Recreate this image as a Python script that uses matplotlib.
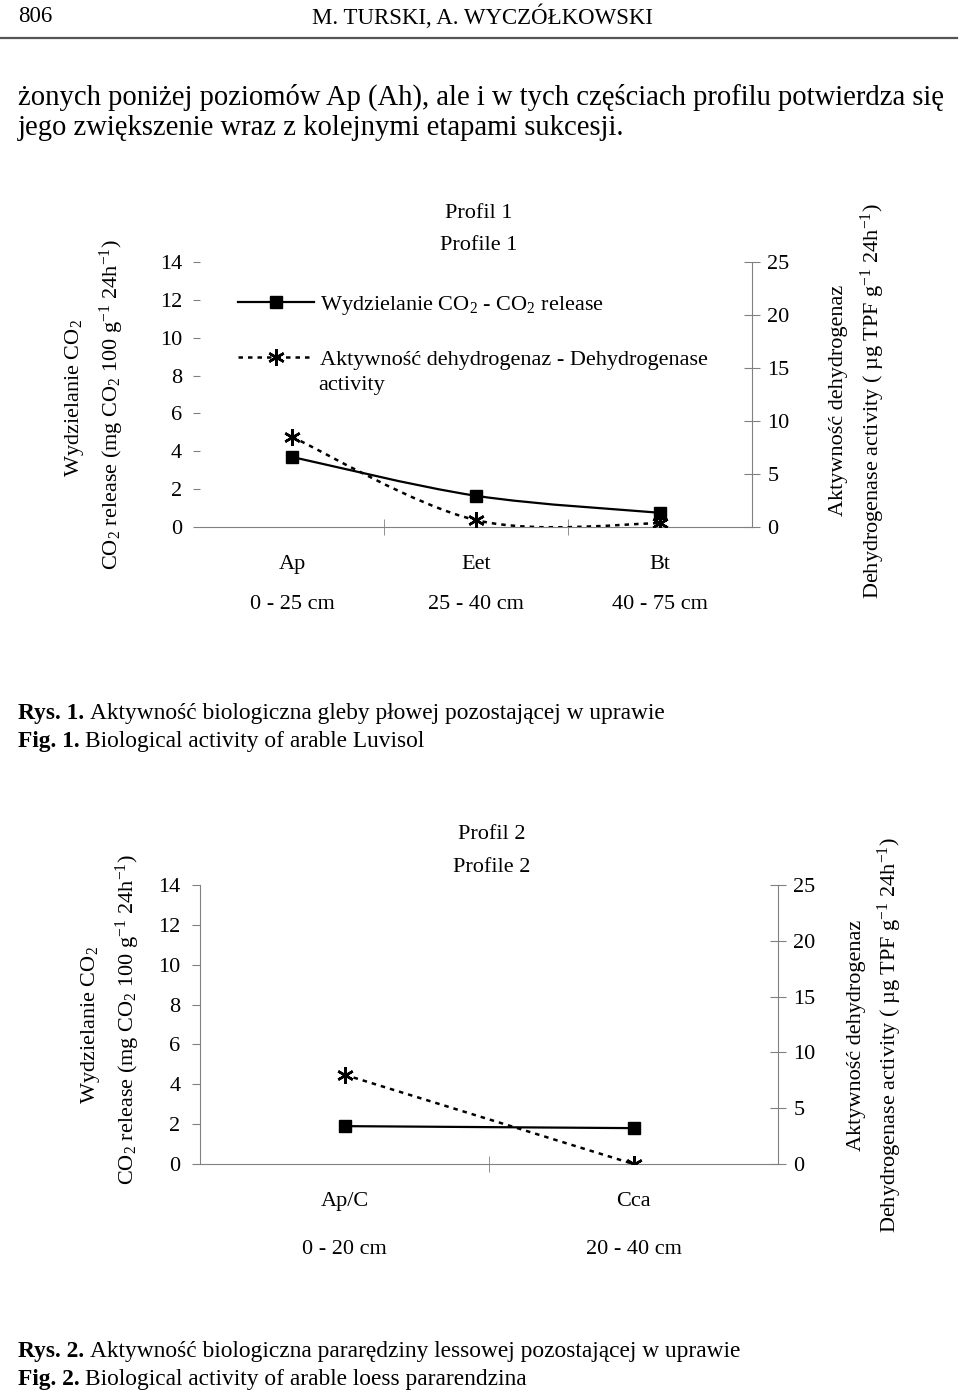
import numpy as np
import matplotlib
matplotlib.use("Agg")
import matplotlib.pyplot as plt
from matplotlib.path import Path
from matplotlib.patches import PathPatch
from matplotlib.lines import Line2D

# czcionka szeryfowa jak w publikacji
plt.rcParams["font.family"] = ["Liberation Serif", "DejaVu Serif"]
plt.rcParams["mathtext.fontset"] = "custom"
plt.rcParams["mathtext.rm"] = "Liberation Serif"
plt.rcParams["mathtext.it"] = "Liberation Serif:italic"
plt.rcParams["mathtext.bf"] = "Liberation Serif:bold"

# --- dane: profil 1 ---
horizons_p1 = ["Ap", "Eet", "Bt"]
depths_p1 = ["0 - 25 cm", "25 - 40 cm", "40 - 75 cm"]
co2_p1 = [3.7, 1.65, 0.75]
dh_p1 = [8.5, 0.65, 0.35]

# --- dane: profil 2 ---
horizons_p2 = ["Ap/C", "Cca"]
depths_p2 = ["0 - 20 cm", "20 - 40 cm"]
co2_p2 = [1.9, 1.8]
dh_p2 = [8.0, 0.0]

co2_ticks = [0, 2, 4, 6, 8, 10, 12, 14]
dh_ticks = [0, 5, 10, 15, 20, 25]

W, H = 960, 1395
FS = 16
CAP_FS = 16.8
GRAY = "#808080"
DASH = (0, (1.8, 2.0))


def smooth_patch(x, y, **kw):
    # wygładzona linia (krzywe Beziera jak w arkuszu)
    x = np.asarray(x, float)
    y = np.asarray(y, float)
    n = len(x)
    verts = [(x[0], y[0])]
    codes = [Path.MOVETO]
    for i in range(n - 1):
        p0 = np.array([x[max(i - 1, 0)], y[max(i - 1, 0)]])
        p1 = np.array([x[i], y[i]])
        p2 = np.array([x[i + 1], y[i + 1]])
        p3 = np.array([x[min(i + 2, n - 1)], y[min(i + 2, n - 1)]])
        c1 = p1 + (p2 - p0) / 6.0
        c2 = p2 - (p3 - p1) / 6.0
        verts += [tuple(c1), tuple(c2), tuple(p2)]
        codes += [Path.CURVE4] * 3
    return PathPatch(Path(verts, codes), fill=False, **kw)


def fx(px):
    return px / W


def fy(py):
    return 1 - py / H


def caption(fig, ax, py, bold, rest):
    # pogrubiony poczatek podpisu + zwykly tekst dalej
    t = fig.text(fx(18), fy(py), bold, fontsize=CAP_FS, weight="bold",
                 ha="left", va="center")
    ax.annotate(rest, xy=(1, 0), xycoords=t, xytext=(4, 0),
                textcoords="offset points", fontsize=CAP_FS,
                ha="left", va="bottom", annotation_clip=False)


def draw_chart(fig, rect, horizons, depths, co2, dh, left_spine, lab_pad, lsp):
    ax = fig.add_axes(rect)
    ax2 = ax.twinx()
    x = np.arange(len(horizons))
    ax.set_xlim(-0.5, len(horizons) - 0.5)
    ax.set_ylim(0, 14)
    ax2.set_ylim(0, 25)
    ax.set_yticks(co2_ticks)
    ax2.set_yticks(dh_ticks)

    for s in ["top", "right"]:
        ax.spines[s].set_visible(False)
    ax.spines["left"].set_visible(left_spine)
    ax.spines["left"].set_color(GRAY)
    ax.spines["bottom"].set_color(GRAY)
    for s in ["top", "left", "bottom"]:
        ax2.spines[s].set_visible(False)
    ax2.spines["right"].set_color(GRAY)

    ax.tick_params(axis="y", direction="out", length=6 if left_spine else 5,
                   color=GRAY, labelsize=FS, pad=8)
    ax2.tick_params(axis="y", direction="inout", length=12, color=GRAY,
                    labelsize=FS, pad=5)

    ax.set_xticks(x)
    ax.set_xticklabels([h + "\n" + d for h, d in zip(horizons, depths)])
    ax.set_xticks(x[:-1] + 0.5, minor=True)
    ax.tick_params(axis="x", which="major", length=0, labelsize=FS, pad=lab_pad)
    ax.tick_params(axis="x", which="minor", direction="inout", length=11, color=GRAY)
    for t in ax.get_xticklabels():
        t.set_linespacing(lsp)

    ax.add_patch(smooth_patch(x, co2, color="black", lw=1.6, zorder=3))
    ax.plot(x, co2, ls="none", marker="s", ms=9, color="black", zorder=4)
    ax2.add_patch(smooth_patch(x, dh, color="black", lw=1.8,
                               linestyle=DASH, zorder=3))
    ax2.plot(x, dh, ls="none", marker=(6, 2, 0), ms=12, mew=1.8,
             color="black", zorder=4)
    return ax, ax2


fig = plt.figure(figsize=(W / 100, H / 100), dpi=100)

# --- naglowek strony ---
fig.text(fx(18), fy(17), "806", fontsize=16.5, va="center", ha="left")
fig.text(fx(482), fy(17), "M. TURSKI, A. WYCZÓŁKOWSKI", fontsize=16.5,
         va="center", ha="center")
fig.add_artist(Line2D([0, fx(957)], [fy(38), fy(38)], color="#555555", lw=1.6))
fig.text(fx(18), fy(97), "żonych poniżej poziomów Ap (Ah), ale i w tych częściach profilu potwierdza się",
         fontsize=20.6, va="center", ha="left")
fig.text(fx(18), fy(128), "jego zwiększenie wraz z kolejnymi etapami sukcesji.",
         fontsize=20.6, va="center", ha="left")

# --- wykres 1 ---
ax, ax2 = draw_chart(fig, [fx(200), fy(527), fx(552), (527 - 262) / H],
                     horizons_p1, depths_p1, co2_p1, dh_p1, False, 20, 2.5)
fig.text(fx(479), fy(213), "Profil 1", fontsize=FS, ha="center", va="center")
fig.text(fx(479), fy(245), "Profile 1", fontsize=FS, ha="center", va="center")
h1 = Line2D([], [], color="black", lw=1.6, marker="s", ms=9)
h2 = Line2D([], [], color="black", lw=1.8, linestyle=DASH,
            marker=(6, 2, 0), ms=12, mew=1.8)
ax.legend([h1, h2],
          ["Wydzielanie CO$_2$ - CO$_2$ release",
           "Aktywność dehydrogenaz - Dehydrogenase"],
          loc="upper left", bbox_to_anchor=(fx(218), fy(274)),
          bbox_transform=fig.transFigure, frameon=False, fontsize=FS,
          handlelength=3.4, handletextpad=0.3, labelspacing=1.45)
fig.text(fx(318), fy(385), "activity", fontsize=FS, ha="left", va="center")

fig.text(fx(75), fy(398), "Wydzielanie CO$_2$", fontsize=FS, rotation=90,
         ha="center", va="center")
fig.text(fx(112), fy(405), "CO$_2$ release (mg CO$_2$ 100 g$^{-1}$ 24h$^{-1}$)",
         fontsize=FS, rotation=90, ha="center", va="center")
fig.text(fx(838), fy(400), "Aktywność dehydrogenaz", fontsize=FS, rotation=90,
         ha="center", va="center")
fig.text(fx(873), fy(401), "Dehydrogenase activity ( µg TPF g$^{-1}$ 24h$^{-1}$)",
         fontsize=FS, rotation=90, ha="center", va="center")

caption(fig, ax, 714, "Rys. 1.", "Aktywność biologiczna gleby płowej pozostającej w uprawie")
caption(fig, ax, 742, "Fig. 1.", "Biological activity of arable Luvisol")

# --- wykres 2 ---
bx, bx2 = draw_chart(fig, [fx(200), fy(1164), fx(578), (1164 - 885) / H],
                     horizons_p2, depths_p2, co2_p2, dh_p2, True, 20, 3.1)
fig.text(fx(492), fy(834), "Profil 2", fontsize=FS, ha="center", va="center")
fig.text(fx(492), fy(868), "Profile 2", fontsize=FS, ha="center", va="center")

fig.text(fx(90), fy(1025), "Wydzielanie CO$_2$", fontsize=FS, rotation=90,
         ha="center", va="center")
fig.text(fx(128), fy(1020), "CO$_2$ release (mg CO$_2$ 100 g$^{-1}$ 24h$^{-1}$)",
         fontsize=FS, rotation=90, ha="center", va="center")
fig.text(fx(857), fy(1035), "Aktywność dehydrogenaz", fontsize=FS, rotation=90,
         ha="center", va="center")
fig.text(fx(890), fy(1035), "Dehydrogenase activity ( µg TPF g$^{-1}$ 24h$^{-1}$)",
         fontsize=FS, rotation=90, ha="center", va="center")

caption(fig, bx, 1352, "Rys. 2.", "Aktywność biologiczna pararędziny lessowej pozostającej w uprawie")
caption(fig, bx, 1380, "Fig. 2.", "Biological activity of arable loess pararendzina")

fig.savefig("out.png", dpi=100)
